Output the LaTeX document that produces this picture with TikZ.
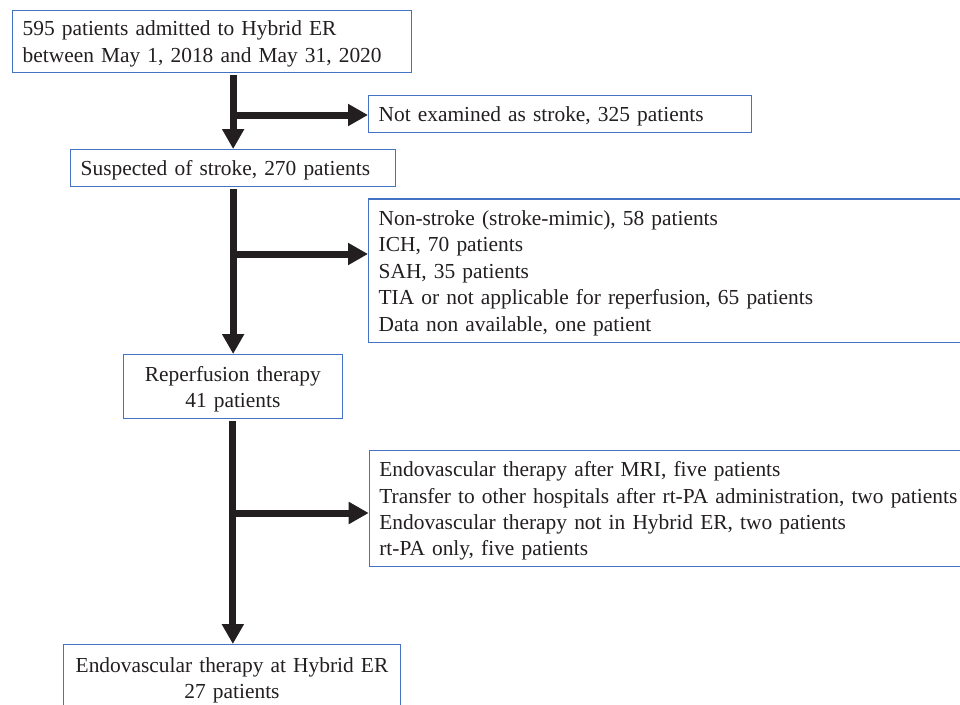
\documentclass[tikz,border=0pt]{standalone}
\usepackage{fontspec}
\setmainfont{Liberation Serif}
\usetikzlibrary{arrows.meta,calc}
\definecolor{boxblue}{HTML}{4472C4}
\definecolor{ink}{HTML}{231F20}
\begin{document}
\begin{tikzpicture}[x=1pt,y=-1pt,
  box/.style={draw=boxblue,line width=1.3pt,fill=white,text=ink,
    font=\fontsize{21.4}{26.4}\selectfont,inner xsep=10pt,inner ysep=0pt,
    anchor=north west,execute at begin node={\rule{0pt}{20pt}}},
  arr/.style={draw=ink,line width=7pt,-{Triangle[length=20pt,width=21pt]}}]
\useasboundingbox (0,0) rectangle (960,704);
\clip (0,0) rectangle (960,704);

\node[box,text width=379pt,minimum height=62.5pt,align=left,font=\fontsize{21.4}{27}\selectfont] (top) at (12,9.5)
  {595 patients admitted to Hybrid ER\\between May 1, 2018 and May 31, 2020};
\node[box,text width=362.7pt,minimum height=36.7pt,align=left] (notex) at (368,95)
  {Not examined as stroke, 325 patients};
\node[box,text width=305pt,minimum height=36.7pt,align=left] (susp) at (70,149)
  {Suspected of stroke, 270 patients};
\node[box,text width=600pt,minimum height=143.4pt,align=left] (b2) at (368,198.3)
  {Non-stroke (stroke-mimic), 58 patients\\ICH, 70 patients\\SAH, 35 patients\\TIA or not applicable for reperfusion, 65 patients\\Data non available, one patient};
\node[box,text width=199pt,minimum height=64pt,align=center] (reperf) at (122.7,354)
  {Reperfusion therapy\\41 patients};
\node[box,text width=600pt,minimum height=116pt,align=left] (b3) at (368.7,450)
  {Endovascular therapy after MRI, five patients\\Transfer to other hospitals after rt-PA administration, two patients\\Endovascular therapy not in Hybrid ER, two patients\\rt-PA only, five patients};
\node[box,text width=317.3pt,minimum height=66pt,align=center] (final) at (62.7,644)
  {Endovascular therapy at Hybrid ER\\27 patients};

\draw[arr,shorten <=2pt] (susp.north |- top.south) -- (susp.north);
\coordinate (j1) at (susp.north |- 0,115);
\draw[arr] (j1) -- (j1 -| notex.west);

\draw[arr,shorten <=2pt] (susp.south) -- (susp.south |- reperf.north);
\coordinate (j2) at (susp.south |- 0,254);
\draw[arr] (j2) -- (j2 -| b2.west);

\draw[arr,shorten <=2pt] (reperf.south) -- (reperf.south |- final.north);
\coordinate (j3) at (reperf.south |- 0,513);
\draw[arr] (j3) -- (j3 -| b3.west);
\end{tikzpicture}
\end{document}
